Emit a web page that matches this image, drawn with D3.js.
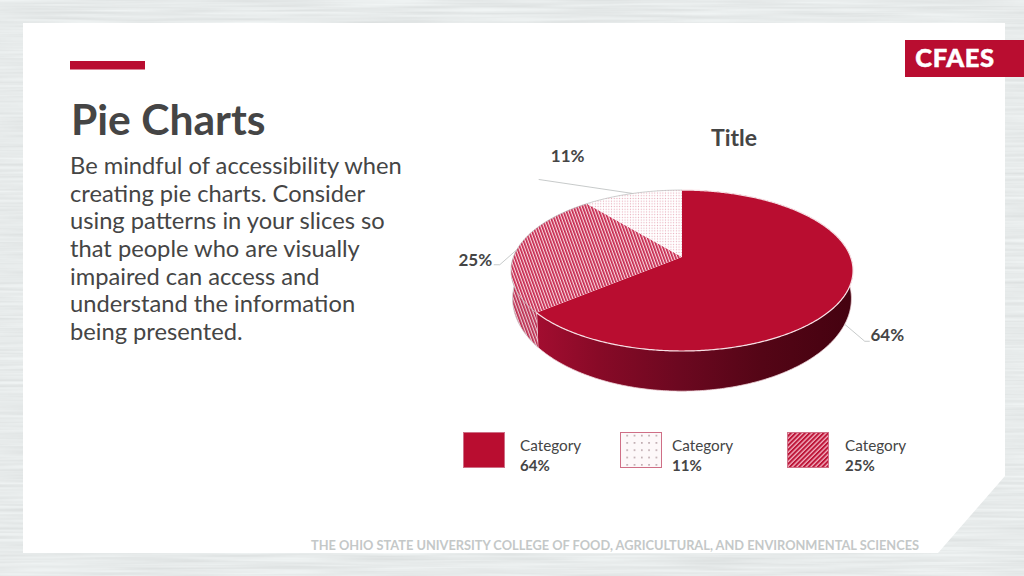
<!DOCTYPE html>
<html>
<head>
<meta charset="utf-8">
<script src="https://cdn.jsdelivr.net/npm/d3@7"></script>
<style>
  html, body { margin: 0; padding: 0; background: #fff; }
  svg { display: block; }
  text { font-family: Lato, "Open Sans", sans-serif; }
</style>
</head>
<body>
<svg id="chart" width="1024" height="576"></svg>
<script>
// slide copy
const heading = 'Pie Charts';
const bodyLines = [
  'Be mindful of accessibility when',
  'creating pie charts. Consider',
  'using patterns in your slices so',
  'that people who are visually',
  'impaired can access and',
  'understand the information',
  'being presented.',
];
const chartTitle = 'Title';
const footer = 'THE OHIO STATE UNIVERSITY COLLEGE OF FOOD, AGRICULTURAL, AND ENVIRONMENTAL SCIENCES';
const logoText = 'CFAES';

// pie data, clockwise from 12 o'clock
const sliceIds = ['solid', 'hatch', 'dots'];
const sliceValues = [64, 25, 11];

// legend runs in a different order to the slices
const legendIds = ['solid', 'dots', 'hatch'];
const legendNames = ['Category', 'Category', 'Category'];
const legendValues = [64, 11, 25];

const CRIMSON = '#b90d30';
const TEXT = '#454545';

const svg = d3.select('#chart');
const defs = svg.append('defs');

//
// Background texture
//

const grain = defs.append('filter')
  .attr('id', 'grain')
  .attr('x', 0).attr('y', 0).attr('width', '100%').attr('height', '100%')
  .attr('color-interpolation-filters', 'sRGB');
grain.append('feTurbulence')
  .attr('type', 'fractalNoise')
  .attr('baseFrequency', '0.009 0.33')
  .attr('numOctaves', 2)
  .attr('seed', 4);
grain.append('feColorMatrix')
  .attr('type', 'matrix')
  .attr('values', '0.11 0 0 0 0.85  0.11 0 0 0 0.865  0.11 0 0 0 0.865  0 0 0 0 1');

svg.append('rect')
  .attr('width', 1024).attr('height', 576)
  .attr('filter', 'url(#grain)');

svg.append('path')
  .attr('d', 'M23,23H1005V476L938,553H23Z')
  .attr('fill', '#fff');

svg.append('rect')
  .attr('x', 70).attr('y', 61).attr('width', 75).attr('height', 8.5)
  .attr('fill', CRIMSON);

svg.append('rect')
  .attr('x', 905).attr('y', 40).attr('width', 119).attr('height', 37)
  .attr('fill', CRIMSON);

svg.append('text')
  .attr('x', 955).attr('y', 67)
  .attr('text-anchor', 'middle')
  .attr('font-size', 25.5).attr('font-weight', 900)
  .attr('letter-spacing', 0.6)
  .attr('fill', '#fff')
  .attr('stroke', '#fff')
  .attr('stroke-width', 0.5)
  .text(logoText);

//
// Left column
//

svg.append('text')
  .attr('x', 71).attr('y', 135)
  .attr('font-size', 42.6).attr('font-weight', 700)
  .attr('fill', TEXT)
  .text(heading);

const bodyY = d3.scaleLinear().domain([0, bodyLines.length - 1]).range([174, 340]);

svg.append('g')
  .selectAll('text')
  .data(bodyLines)
  .join('text')
  .attr('x', 70)
  .attr('y', (d, i) => bodyY(i))
  .attr('font-size', 23.7)
  .attr('fill', TEXT)
  .text((d) => d);

svg.append('text')
  .attr('x', 311).attr('y', 550)
  .attr('font-size', 12.8).attr('font-weight', 700)
  .attr('fill', '#c4c8c8')
  .text(footer);

//
// Patterns
//

const hatchPie = defs.append('pattern')
  .attr('id', 'hatch-pie')
  .attr('patternUnits', 'userSpaceOnUse')
  .attr('width', 2.8).attr('height', 2.8)
  .attr('patternTransform', 'rotate(-20)');
hatchPie.append('rect').attr('width', 2.8).attr('height', 2.8).attr('fill', '#f9d8e0');
hatchPie.append('rect').attr('width', 1.6).attr('height', 2.8).attr('fill', '#c4234a');

const dotsPie = defs.append('pattern')
  .attr('id', 'dots-pie')
  .attr('patternUnits', 'userSpaceOnUse')
  .attr('width', 2.7).attr('height', 2.7);
dotsPie.append('rect').attr('width', 2.7).attr('height', 2.7).attr('fill', '#fff');
dotsPie.append('circle').attr('cx', 1.35).attr('cy', 1.35).attr('r', 0.6).attr('fill', '#e7a9b8');

const hatchKey = defs.append('pattern')
  .attr('id', 'hatch-key')
  .attr('patternUnits', 'userSpaceOnUse')
  .attr('width', 3.3).attr('height', 3.3)
  .attr('patternTransform', 'rotate(45)');
hatchKey.append('rect').attr('width', 3.3).attr('height', 3.3).attr('fill', '#f4b4c3');
hatchKey.append('rect').attr('width', 2).attr('height', 3.3).attr('fill', '#bd1538');

const dotsKey = defs.append('pattern')
  .attr('id', 'dots-key')
  .attr('patternUnits', 'userSpaceOnUse')
  .attr('x', 463).attr('y', 432)
  .attr('width', 7.3).attr('height', 7.3);
dotsKey.append('rect').attr('width', 7.3).attr('height', 7.3).attr('fill', '#fdf8f9');
dotsKey.append('circle').attr('cx', 3.6).attr('cy', 3.6).attr('r', 0.8).attr('fill', '#a58a90');

const sideGradient = defs.append('linearGradient')
  .attr('id', 'side-solid')
  .attr('gradientUnits', 'userSpaceOnUse')
  .attr('x1', 535).attr('x2', 850).attr('y1', 0).attr('y2', 0);
sideGradient.selectAll('stop')
  .data([
    [0, '#a30d30'],
    [0.2, '#880a27'],
    [0.46, '#6c0820'],
    [0.72, '#540516'],
    [1, '#450210'],
  ])
  .join('stop')
  .attr('offset', (d) => d[0])
  .attr('stop-color', (d) => d[1]);

//
// 3D pie
//

const fillFor = {
  solid: CRIMSON,
  hatch: 'url(#hatch-pie)',
  dots: 'url(#dots-pie)',
};
const keyFillFor = {
  solid: CRIMSON,
  hatch: 'url(#hatch-key)',
  dots: 'url(#dots-key)',
};

const PIE_X = 682;
const PERSPECTIVE = 0.168;
const TOP_PLANE = { x: 168.6, y: 257, ry: 78.2 };
const BASE_PLANE = { x: 167, y: 283, ry: 90 };

// angle on the pie -> screen position, front of the disc drawn larger
function project(angle, plane) {
  const u = Math.sin(angle);
  const v = -Math.cos(angle);
  const w = 1 - PERSPECTIVE * v;
  return [PIE_X + (plane.x * u) / w, plane.y + (plane.ry * v) / w];
}

function rim(start, end, plane) {
  const count = Math.ceil((end - start) / 0.01);
  const step = d3.scaleLinear().domain([0, count]).range([start, end]);
  return d3.range(count + 1).map((i) => project(step(i), plane));
}

const line = d3.line();

const slices = d3.pie().sort(null).value((d) => d.value)(
  sliceIds.map((id, i) => ({ id, value: sliceValues[i] })),
);

const pieGroup = svg.append('g');

// walls first, the top surface hides whatever is round the back
slices.forEach((s) => {
  const top = rim(s.startAngle, s.endAngle, TOP_PLANE);
  const base = rim(s.startAngle, s.endAngle, BASE_PLANE).reverse();
  const outline = line(top.concat(base)) + 'Z';

  pieGroup.append('path')
    .attr('d', outline)
    .attr('fill', s.data.id === 'solid' ? 'url(#side-solid)' : fillFor[s.data.id]);

  if (s.data.id !== 'solid') {
    pieGroup.append('path')
      .attr('d', outline)
      .attr('fill', '#6b5a5e')
      .attr('fill-opacity', 0.1);
  }

  pieGroup.append('path')
    .attr('d', line(base))
    .attr('fill', 'none')
    .attr('stroke', s.data.id === 'solid' ? '#f0d5da' : '#c9c4c6')
    .attr('stroke-width', 0.8);

  // seam down the wall
  pieGroup.append('path')
    .attr('d', line([project(s.endAngle, TOP_PLANE), project(s.endAngle, BASE_PLANE)]))
    .attr('fill', 'none')
    .attr('stroke', '#f6e2e6')
    .attr('stroke-width', s.data.id === 'solid' ? 1.1 : 0);
});

slices.forEach((s) => {
  const top = rim(s.startAngle, s.endAngle, TOP_PLANE);
  pieGroup.append('path')
    .attr('d', line([[PIE_X, TOP_PLANE.y]].concat(top)) + 'Z')
    .attr('fill', fillFor[s.data.id]);
});

slices.forEach((s) => {
  pieGroup.append('path')
    .attr('d', line(rim(s.startAngle, s.endAngle, TOP_PLANE)))
    .attr('fill', 'none')
    .attr('stroke', s.data.id === 'solid' ? '#f7dfe4' : '#bfc2c2')
    .attr('stroke-width', s.data.id === 'solid' ? 1.2 : 0.8);
});

//
// Data labels and leader lines
//

const midAngle = (s) => (s.startAngle + s.endAngle) / 2;

// leader elbow and label position, relative to where the leader leaves the pie
const labelLayout = {
  solid: { plane: BASE_PLANE, elbow: [[20, 17], [25, 17]], label: [42.5, 17] },
  hatch: { plane: TOP_PLANE, elbow: [[-17, 15], [-23, 15]], label: [-41.5, 16] },
  dots: { plane: TOP_PLANE, elbow: [[-94, -14]], label: [-65, -31] },
};

slices.forEach((s) => {
  const layout = labelLayout[s.data.id];
  const from = project(midAngle(s), layout.plane);

  svg.append('path')
    .attr('d', line([from].concat(layout.elbow.map((e) => [from[0] + e[0], from[1] + e[1]]))))
    .attr('fill', 'none')
    .attr('stroke', '#b9bcbc')
    .attr('stroke-width', 0.8);

  svg.append('text')
    .attr('x', from[0] + layout.label[0])
    .attr('y', from[1] + layout.label[1])
    .attr('text-anchor', 'middle')
    .attr('font-size', 17).attr('font-weight', 700)
    .attr('fill', TEXT)
    .text(`${s.value}%`);
});

svg.append('text')
  .attr('x', 734).attr('y', 146)
  .attr('text-anchor', 'middle')
  .attr('font-size', 23).attr('font-weight', 700)
  .attr('fill', TEXT)
  .text(chartTitle);

//
// Legend
//

const legendSwatchX = [463, 620, 787];
const legendTextX = [520, 672, 845];

const legend = svg.append('g')
  .selectAll('g')
  .data(legendIds)
  .join('g');

legend.append('rect')
  .attr('x', (d, i) => legendSwatchX[i] + 0.5)
  .attr('y', 432.5)
  .attr('width', 41).attr('height', 35)
  .attr('fill', (d) => keyFillFor[d])
  .attr('stroke', '#cf6f86')
  .attr('stroke-width', 1);

legend.append('text')
  .attr('x', (d, i) => legendTextX[i])
  .attr('y', 451)
  .attr('font-size', 15.3).attr('fill', TEXT)
  .text((d, i) => legendNames[i]);

legend.append('text')
  .attr('x', (d, i) => legendTextX[i])
  .attr('y', 471)
  .attr('font-size', 15).attr('font-weight', 700).attr('fill', TEXT)
  .text((d, i) => `${legendValues[i]}%`);
</script>
</body>
</html>
